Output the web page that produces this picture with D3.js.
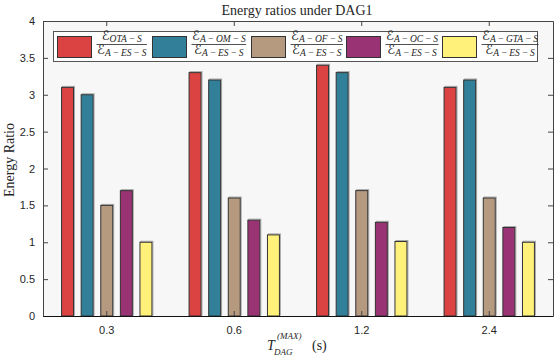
<!DOCTYPE html>
<html>
<head>
<meta charset="utf-8">
<script src="https://cdn.jsdelivr.net/npm/d3@7"></script>
<style>
  body { margin: 0; background: #fff; }
  svg text { fill: #262626; }
</style>
</head>
<body>
<div id="chart"></div>
<script>
// categories (T_DAG max, seconds)
const categories = ['0.3', '0.6', '1.2', '2.4'];
const seriesKeys = ['OTA', 'AOM', 'AOF', 'AOC', 'AGTA'];
const seriesNums = ['OTA-S', 'A-OM-S', 'A-OF-S', 'A-OC-S', 'A-GTA-S'];
const seriesColors = ['#db4242', '#317f99', '#b59a80', '#9a3373', '#fff17a'];

// energy ratios per series, one value per category
const valsOTA  = [3.1, 3.3, 3.4, 3.1];
const valsAOM  = [3.0, 3.2, 3.3, 3.2];
const valsAOF  = [1.5, 1.6, 1.7, 1.6];
const valsAOC  = [1.7, 1.3, 1.27, 1.2];
const valsAGTA = [1.0, 1.1, 1.01, 1.0];
const seriesVals = [valsOTA, valsAOM, valsAOF, valsAOC, valsAGTA];

const yTicks = [0, 0.5, 1, 1.5, 2, 2.5, 3, 3.5, 4];

const W = 556, H = 358;
const plot = { left: 43, right: 553, top: 21, bottom: 316 };

const svg = d3.select('#chart').append('svg')
    .attr('width', W).attr('height', H);

const x = d3.scaleBand().domain(categories).range([plot.left, plot.right]).padding(0);
const xi = d3.scaleBand().domain(seriesKeys).range([-49, 49])
    .paddingInner(0.39).paddingOuter(0.195);
const y = d3.scaleLinear().domain([0, 4]).range([plot.bottom, plot.top]);

// plot background
svg.append('rect')
    .attr('x', plot.left).attr('y', plot.top)
    .attr('width', plot.right - plot.left).attr('height', plot.bottom - plot.top)
    .attr('fill', '#f7f7f7');

// bars
const rows = categories.map((c, i) => ({ c, vals: seriesKeys.map((k, j) => ({ k, j, v: seriesVals[j][i] })) }));
const groups = svg.append('g').selectAll('g')
    .data(rows).join('g')
    .attr('transform', d => `translate(${x(d.c) + x.bandwidth() / 2},0)`);

// light shadow outline
groups.selectAll('rect.shadow')
    .data(d => d.vals).join('rect')
    .attr('class', 'shadow')
    .attr('x', d => xi(d.k) + 1).attr('y', d => y(d.v) - 1)
    .attr('width', xi.bandwidth()).attr('height', d => y(0) - y(d.v))
    .attr('fill', 'none').attr('stroke', '#a8a8a8').attr('stroke-width', 1);

groups.selectAll('rect.bar')
    .data(d => d.vals).join('rect')
    .attr('class', 'bar')
    .attr('x', d => xi(d.k)).attr('y', d => y(d.v))
    .attr('width', xi.bandwidth()).attr('height', d => y(0) - y(d.v))
    .attr('fill', d => seriesColors[d.j])
    .attr('stroke', '#333').attr('stroke-width', 1);

// axes: left, right, bottom, top with inward ticks
const fontSans = 'Liberation Sans, Arial, sans-serif';
const yAxisL = svg.append('g').attr('transform', `translate(${plot.left},0)`)
    .call(d3.axisLeft(y).tickValues(yTicks).tickSizeInner(-5).tickSizeOuter(0).tickPadding(8).tickFormat(d3.format('')));
const yAxisR = svg.append('g').attr('transform', `translate(${plot.right},0)`)
    .call(d3.axisRight(y).tickValues(yTicks).tickSizeInner(-5).tickSizeOuter(0).tickFormat(''));
const xAxisB = svg.append('g').attr('transform', `translate(0,${plot.bottom})`)
    .call(d3.axisBottom(x).tickSizeInner(-5).tickSizeOuter(0).tickPadding(10));
const xAxisT = svg.append('g').attr('transform', `translate(0,${plot.top})`)
    .call(d3.axisTop(x).tickSizeInner(-5).tickSizeOuter(0).tickFormat(''));

[yAxisL, yAxisR, xAxisB, xAxisT].forEach(a => {
    a.selectAll('path').attr('stroke', '#444');
    a.selectAll('line').attr('stroke', '#444');
    a.selectAll('text').style('font-family', fontSans).style('font-size', '11px').attr('fill', '#262626');
});
xAxisB.select('path').attr('stroke', '#111');

// title
const fontSerif = 'Liberation Serif, Times New Roman, serif';
svg.append('text')
    .attr('x', 297).attr('y', 15)
    .attr('text-anchor', 'middle')
    .style('font-family', fontSerif).style('font-size', '14px')
    .text('Energy ratios under DAG1');

// y label
svg.append('text')
    .attr('transform', 'translate(14,160) rotate(-90)')
    .attr('text-anchor', 'middle')
    .style('font-family', fontSerif).style('font-size', '14px')
    .text('Energy Ratio');

// x label: T_DAG^(MAX) (s)
const xlab = svg.append('g').style('font-family', fontSerif).style('font-style', 'italic');
xlab.append('text').attr('x', 267).attr('y', 350).style('font-size', '14px').text('T');
xlab.append('text').attr('x', 277).attr('y', 339).style('font-size', '9px').text('(MAX)');
xlab.append('text').attr('x', 274).attr('y', 355).style('font-size', '9px').text('DAG');
xlab.append('text').attr('x', 312).attr('y', 350).style('font-size', '14px').style('font-style', 'normal').text('(s)');

// legend
const legend = svg.append('g');
legend.append('rect')
    .attr('x', 53.5).attr('y', 31.5).attr('width', 484).attr('height', 30)
    .attr('fill', '#fff').attr('stroke', '#555').attr('stroke-width', 1);

const legendX = [57, 152, 251, 346, 442];
const item = legend.selectAll('g.item')
    .data(seriesKeys.map((k, j) => ({ k, j })))
    .join('g').attr('class', 'item')
    .attr('transform', d => `translate(${legendX[d.j]},36)`);

item.append('rect')
    .attr('x', 0.5).attr('y', 0.5).attr('width', 34).attr('height', 21)
    .attr('fill', d => seriesColors[d.j]).attr('stroke', '#333');

// subscript with math-like spacing around the minus signs
const subText = s => s.split('-').join('\u2009\u2212\u2009');

function frac(g, txt, yb) {
    const t = g.append('text').attr('x', 40).attr('y', yb);
    t.append('tspan').style('font-family', 'DejaVu Sans, sans-serif').style('font-size', '13px')
        .text('\u2130');
    t.append('tspan').attr('dy', 2).style('font-family', fontSerif).style('font-size', '9.5px')
        .style('font-style', 'italic').text(subText(txt));
    return t;
}
item.each(function (d) {
    const g = d3.select(this);
    const num = frac(g, seriesNums[d.j], 3.5);
    const den = frac(g, 'A-ES-S', 18);
    const wn = num.node().getComputedTextLength(), wd = den.node().getComputedTextLength();
    const w = Math.max(wn, wd);
    g.append('line').attr('x1', 39.5).attr('x2', 40.5 + w)
        .attr('y1', 8.5).attr('y2', 8.5).attr('stroke', '#262626').attr('stroke-width', 0.8);
    num.attr('x', 40 + (w - wn) / 2);
    den.attr('x', 40 + (w - wd) / 2);
});
</script>
</body>
</html>
